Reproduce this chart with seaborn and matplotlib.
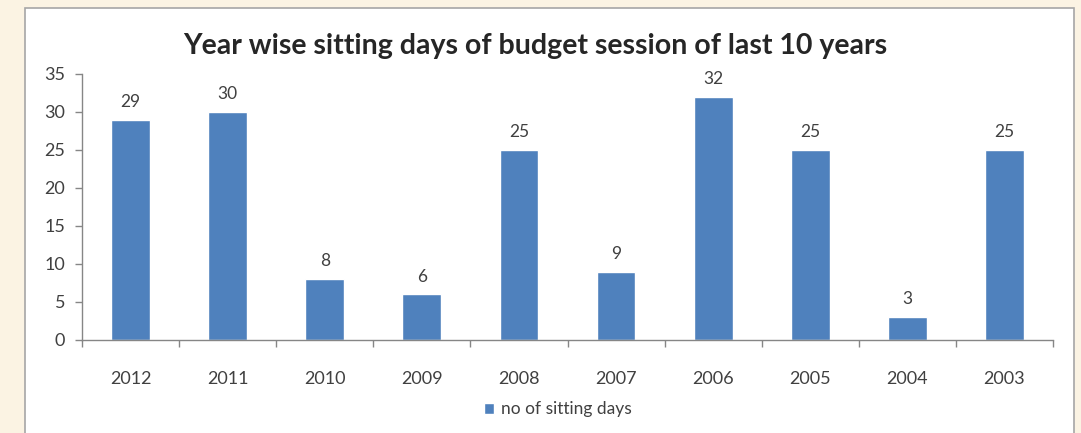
import matplotlib
matplotlib.use("Agg")
import matplotlib.pyplot as plt
import pandas as pd
import seaborn as sns
from matplotlib.patches import Rectangle

# data
years = ["2012", "2011", "2010", "2009", "2008", "2007", "2006", "2005", "2004", "2003"]
sitting_days = [29, 30, 8, 6, 25, 9, 32, 25, 3, 25]
series_name = "no of sitting days"
title = "Year wise sitting days of budget session of last 10 years"

BAR_COLOR = "#4F81BD"
PAGE_BG = "#FBF3E3"
TEXT = "#404040"

sns.set_theme(style="white")
plt.rcParams["font.family"] = ["Lato", "DejaVu Sans"]

df = pd.DataFrame({"year": years, "days": sitting_days})

fig = plt.figure(figsize=(10.81, 4.33), dpi=100)
fig.patch.set_facecolor(PAGE_BG)

# white chart frame like the spreadsheet chart area
frame = Rectangle((25 / 1081, -0.05), (1074 - 25) / 1081, 1 - 8 / 433 + 0.05,
                  transform=fig.transFigure, facecolor="white",
                  edgecolor="#A6A6A6", linewidth=1.2, zorder=-10)
fig.patches.append(frame)

ax = fig.add_axes([82 / 1081, 1 - 340 / 433, (1053 - 82) / 1081, (340 - 74) / 433])
ax.set_zorder(5)
ax.set_facecolor("none")

sns.barplot(data=df, x="year", y="days", order=years, color=BAR_COLOR,
            width=0.4, saturation=1, label=series_name, ax=ax)

for bar, val in zip(ax.patches, sitting_days):
    ax.annotate(str(val), (bar.get_x() + bar.get_width() / 2, bar.get_height()),
                xytext=(0, 7), textcoords="offset points", ha="center", va="bottom",
                fontsize=12.5, color=TEXT)

ax.set_ylim(0, 35)
ax.set_yticks(range(0, 36, 5))
ax.set_xlim(-0.5, len(years) - 0.5)
ax.set_xlabel("")
ax.set_ylabel("")

for side in ["top", "right"]:
    ax.spines[side].set_visible(False)
for side in ["left", "bottom"]:
    ax.spines[side].set_color("#868686")
    ax.spines[side].set_linewidth(1.0)

ax.tick_params(axis="y", which="major", left=True, length=5, width=1, color="#868686",
               labelsize=13, labelcolor=TEXT, pad=7)
# category labels without ticks, tick marks sit between categories
ax.tick_params(axis="x", which="major", bottom=False, labelsize=13, labelcolor=TEXT, pad=16)
ax.set_xticks([i + 0.5 for i in range(-1, len(years))], minor=True)
ax.tick_params(axis="x", which="minor", bottom=True, length=5, width=1, color="#868686")

fig.text(535 / 1081, 1 - 46 / 433, title, ha="center", va="center",
         fontsize=20.5, fontweight="bold", color="#262626")

leg = ax.legend(loc="center", bbox_to_anchor=(0.49, -0.26), frameon=False,
                fontsize=12.5, handlelength=0.6, handleheight=0.6, handletextpad=0.4)
for t in leg.get_texts():
    t.set_color(TEXT)

fig.savefig("out.png", dpi=100, facecolor=fig.get_facecolor())
